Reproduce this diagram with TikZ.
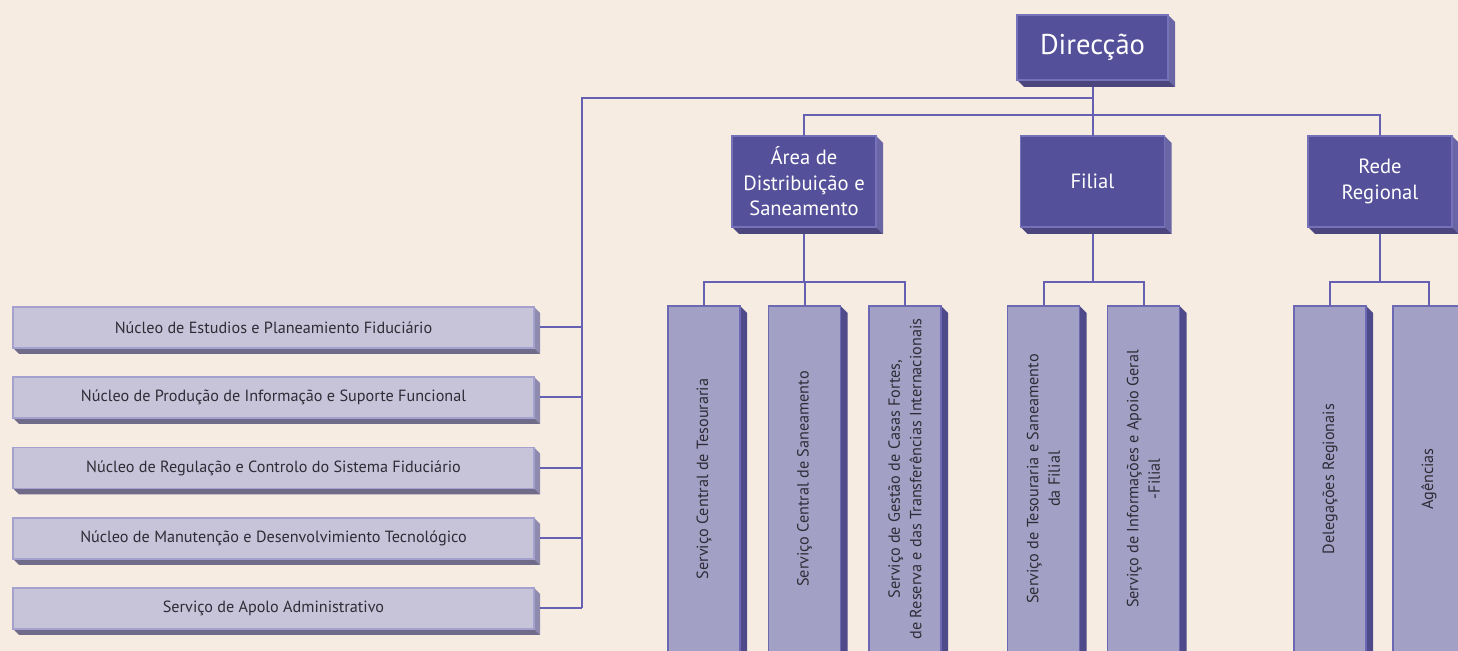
\documentclass[tikz,border=0pt]{standalone}
\usepackage{fontspec}
\setmainfont{PT Sans}
\usetikzlibrary{backgrounds}
\definecolor{bgc}{HTML}{F6ECE2}
\definecolor{linec}{HTML}{6660B2}
\definecolor{topf}{HTML}{55509A}
\definecolor{topb}{HTML}{7672BA}
\definecolor{topr}{HTML}{6A65A5}
\definecolor{topd}{HTML}{4C467E}
\definecolor{vf}{HTML}{A3A0C5}
\definecolor{vb}{HTML}{6C68B4}
\definecolor{vr}{HTML}{4F4A8A}
\definecolor{lf}{HTML}{C7C4D9}
\definecolor{lb}{HTML}{A5A1CF}
\definecolor{lr}{HTML}{8F8BAE}
\definecolor{ld}{HTML}{6F6B89}
\definecolor{txt}{HTML}{2E2C36}
\newcommand\extr[4]{%
  \fill[#3] (#1.north east) -- ++(#2,#2) -- ([shift={(#2,#2)}]#1.south east) -- (#1.south east) -- cycle;
  \fill[#4] (#1.south west) -- ([shift={(#2,#2)}]#1.south west) -- ([shift={(#2,#2)}]#1.south east) -- (#1.south east) -- cycle;}
\begin{document}
\begin{tikzpicture}[x=0.5pt,y=-0.5pt,
  conn/.style={draw=linec,line width=1pt},
  topbox/.style={draw=topb,line width=0.8pt,fill=topf,text=white,inner sep=0pt,outer sep=0pt,
    align=center,minimum width=72pt,minimum height=45.5pt,font=\fontsize{10.3}{12.8}\selectfont},
  vbox/.style={draw=vb,line width=0.8pt,fill=vf,inner sep=0pt,outer sep=0pt,
    minimum width=36pt,minimum height=173pt},
  vtext/.style={rotate=90,align=center,text=txt,font=\fontsize{8.1}{10.8}\selectfont},
  lbox/.style={draw=lb,line width=0.8pt,fill=lf,text=txt,inner sep=0pt,outer sep=0pt,
    minimum width=260.5pt,minimum height=20.5pt,font=\fontsize{8.1}{9.5}\selectfont}]
\useasboundingbox (0,0) rectangle (1458,651);
% top level
\node[topbox,minimum width=75.5pt,minimum height=32.5pt,font=\fontsize{14.3}{16}\selectfont] (dir) at (1092.5,47.5) {Direcção};
\node[topbox] (area) at (804,181.5) {Área de\\Distribuição e\\Saneamento};
\node[topbox] (filial) at (1092.5,181.5) {Filial};
\node[topbox] (rede) at (1380,181.5) {Rede\\Regional};
% vertical boxes
\node[vbox,label={[vtext]center:Serviço Central de Tesouraria}] (v1) at (704,479) {};
\node[vbox,label={[vtext]center:Serviço Central de Saneamento}] (v2) at (804.5,479) {};
\node[vbox,label={[vtext]center:Serviço de Gestão de Casas Fortes,\\de Reserva e das Transferências Internacionais}] (v3) at (905,479) {};
\node[vbox,label={[vtext]center:Serviço de Tesouraria e Saneamento\\da Filial}] (v4) at (1043.5,479) {};
\node[vbox,label={[vtext]center:Serviço de Informações e Apoio Geral\\-Filial}] (v5) at (1143.5,479) {};
\node[vbox,label={[vtext]center:Delegações Regionais}] (v6) at (1330,479) {};
\node[vbox,label={[vtext]center:Agências}] (v7) at (1429,479) {};
% left boxes
\node[lbox] (l1) at (273.5,327.5) {Núcleo de Estudios e Planeamiento Fiduciário};
\node[lbox] (l2) at (273.5,397.5) {Núcleo de Produção de Informação e Suporte Funcional};
\node[lbox] (l3) at (273.5,468) {Núcleo de Regulação e Controlo do Sistema Fiduciário};
\node[lbox] (l4) at (273.5,538.5) {Núcleo de Manutenção e Desenvolvimiento Tecnológico};
\node[lbox] (l5) at (273.5,608.5) {Serviço de Apolo Administrativo};
\begin{pgfonlayer}{background}
  \fill[bgc] (0,0) rectangle (1458,651);
  \extr{dir}{7}{topr}{topd}
  \extr{area}{7}{topr}{topd}
  \extr{filial}{7}{topr}{topd}
  \extr{rede}{7}{topr}{topd}
  \foreach \v in {v1,v2,v3,v4,v5,v6,v7} {\extr{\v}{7}{vr}{vr}}
  \foreach \l in {l1,l2,l3,l4,l5} {\extr{\l}{6}{lr}{ld}}
\end{pgfonlayer}
% connectors
\coordinate (jl) at (582,98);
\coordinate (bar) at (0,115);
\coordinate (sub) at (0,282);
\draw[conn] ([yshift=-3.5pt]dir.south) -- (dir.south |- bar);
\draw[conn] (dir.south |- jl) -- (jl) -- (jl |- l5.east);
\draw[conn] (area.north) -- (area.north |- bar) -- (rede.north |- bar) -- (rede.north);
\draw[conn] (filial.north) -- (filial.north |- bar);
\draw[conn] ([yshift=-3.5pt]area.south) -- (area.south |- sub);
\draw[conn] (v1.north) -- (v1.north |- sub) -- (v3.north |- sub) -- (v3.north);
\draw[conn] (v2.north) -- (v2.north |- sub);
\draw[conn] ([yshift=-3.5pt]filial.south) -- (filial.south |- sub);
\draw[conn] (v4.north) -- (v4.north |- sub) -- (v5.north |- sub) -- (v5.north);
\draw[conn] ([yshift=-3.5pt]rede.south) -- (rede.south |- sub);
\draw[conn] (v6.north) -- (v6.north |- sub) -- (v7.north |- sub) -- (v7.north);
\foreach \l in {l1,l2,l3,l4,l5} {\draw[conn] ([xshift=3pt]\l.east) -- (\l.east -| jl);}
\end{tikzpicture}
\end{document}
